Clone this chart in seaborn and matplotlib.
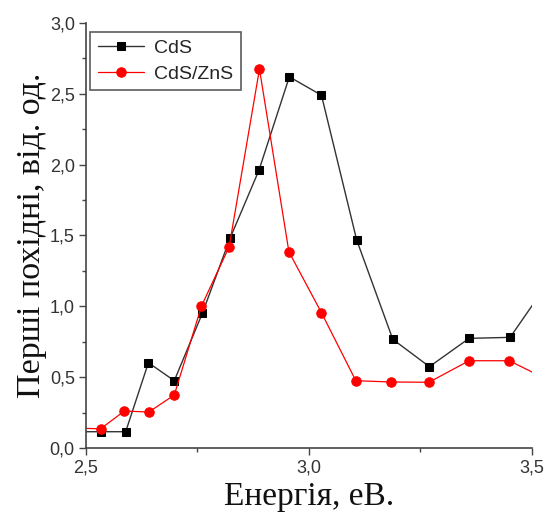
import matplotlib
matplotlib.use('Agg')
import pandas as pd
import matplotlib.pyplot as plt
import seaborn as sns
from matplotlib.ticker import MultipleLocator, FuncFormatter

# Дані (крайні точки лежать поза межами осей)
energy_cds = [2.47, 2.533, 2.589, 2.640, 2.698, 2.761, 2.823, 2.888, 2.956, 3.028,
              3.107, 3.188, 3.270, 3.359, 3.451, 3.53]
deriv_cds = [0.115, 0.115, 0.115, 0.602, 0.475, 0.951, 1.48, 1.962, 2.62, 2.49,
             1.468, 0.767, 0.574, 0.774, 0.781, 1.14]

energy_zns = [2.47, 2.533, 2.586, 2.641, 2.698, 2.759, 2.821, 2.889, 2.955, 3.028,
              3.105, 3.185, 3.269, 3.359, 3.449, 3.53]
deriv_zns = [0.14, 0.136, 0.261, 0.254, 0.374, 1.002, 1.42, 2.675, 1.385, 0.955,
             0.475, 0.466, 0.464, 0.616, 0.616, 0.49]

df_cds = pd.DataFrame({'E': energy_cds, 'D': deriv_cds})
df_zns = pd.DataFrame({'E': energy_zns, 'D': deriv_zns})

sns.set_style('ticks')
plt.rcParams['font.family'] = ['Liberation Sans', 'DejaVu Sans']

fig = plt.figure(figsize=(5.49, 5.13), dpi=100)
ax = fig.add_axes([0.1566, 0.1267, 0.8124, 0.8285])

sns.lineplot(data=df_cds, x='E', y='D', ax=ax, sort=False, label='CdS',
             color='#333333', linewidth=1.0, marker='s', markersize=6.3,
             markerfacecolor='black', markeredgecolor='black')
sns.lineplot(data=df_zns, x='E', y='D', ax=ax, sort=False, label='CdS/ZnS',
             color='#ff0000', linewidth=0.9, marker='o', markersize=6.8,
             markerfacecolor='#ff0000', markeredgecolor='#ff0000')

ax.set_xlim(2.5, 3.5)
ax.set_ylim(0, 3.0)

ax.xaxis.set_major_locator(MultipleLocator(0.5))
ax.xaxis.set_minor_locator(MultipleLocator(0.25))
ax.yaxis.set_major_locator(MultipleLocator(0.5))
ax.yaxis.set_minor_locator(MultipleLocator(0.25))
comma = FuncFormatter(lambda v, p: f'{v:.1f}'.replace('.', ','))
ax.xaxis.set_major_formatter(comma)
ax.yaxis.set_major_formatter(comma)

ax.tick_params(which='major', length=5, width=1.0, color='#444444',
               labelsize=13, labelcolor='#333333', pad=3)
ax.tick_params(which='minor', length=3, width=1.0, color='#444444')

for s in ['top', 'right']:
    ax.spines[s].set_visible(False)
for s in ['left', 'bottom']:
    ax.spines[s].set_color('#444444')
    ax.spines[s].set_linewidth(1.2)

ax.set_xlabel('Енергія, еВ.', fontsize=24, family='Liberation Serif',
              color='#111111', labelpad=4)
ax.set_ylabel('Перші похідні, від. од.', fontsize=24.5, family='Liberation Serif',
              color='#111111', labelpad=2)

leg = ax.legend(loc='upper left', bbox_to_anchor=(0.009, 0.979), fontsize=14,
                frameon=True, fancybox=False, handlelength=2.4, borderaxespad=0,
                borderpad=0.4, labelspacing=0.4, handletextpad=0.5)
leg.get_frame().set_edgecolor('#333333')
leg.get_frame().set_linewidth(1.2)

fig.savefig('out.png', dpi=100)
